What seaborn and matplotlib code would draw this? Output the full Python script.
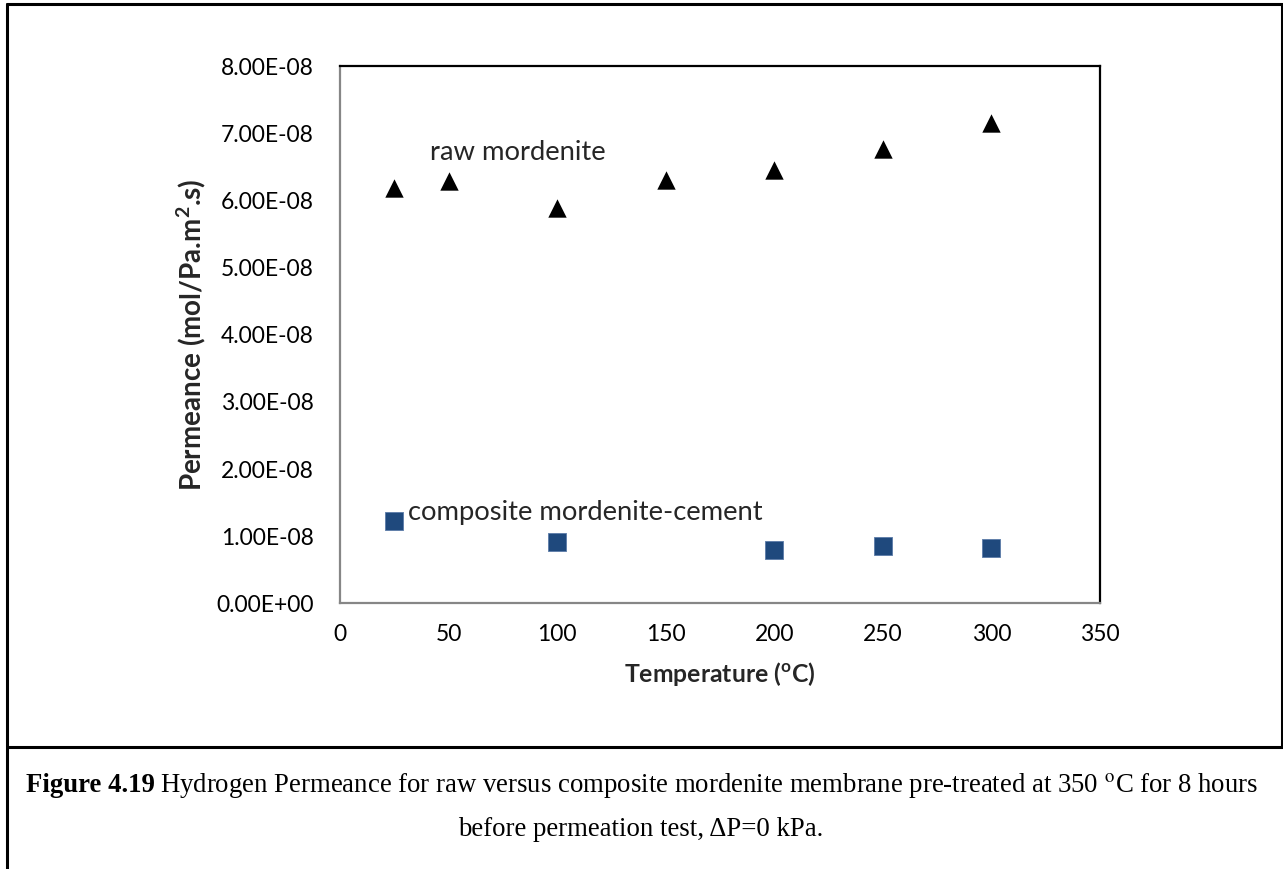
import matplotlib
matplotlib.use("Agg")
import matplotlib.pyplot as plt
from matplotlib.lines import Line2D
from matplotlib.ticker import FuncFormatter
import seaborn as sns
import pandas as pd

# ---- data ----
raw_temp = [25, 50, 100, 150, 200, 250, 300]
raw_perm = [6.19e-8, 6.29e-8, 5.89e-8, 6.31e-8, 6.45e-8, 6.77e-8, 7.16e-8]
comp_temp = [25, 100, 200, 250, 300]
comp_perm = [1.23e-8, 0.91e-8, 0.80e-8, 0.86e-8, 0.83e-8]
x_ticks = [0, 50, 100, 150, 200, 250, 300, 350]
y_ticks = [0, 1e-8, 2e-8, 3e-8, 4e-8, 5e-8, 6e-8, 7e-8, 8e-8]

sns.set_theme(style="white")
plt.rcParams["font.family"] = ["Lato", "DejaVu Sans"]
plt.rcParams["mathtext.fontset"] = "custom"
plt.rcParams["mathtext.rm"] = "Lato"
plt.rcParams["mathtext.bf"] = "Lato:bold"
plt.rcParams["mathtext.it"] = "Lato:italic"

W, H = 1283, 869
fig = plt.figure(figsize=(W / 100, H / 100), dpi=100)
fig.patch.set_facecolor("white")
ax = fig.add_axes([340 / W, 1 - 603.3 / H, (1100 - 340) / W, (603.3 - 66.3) / H])

df_raw = pd.DataFrame({"T": raw_temp, "P": raw_perm})
df_comp = pd.DataFrame({"T": comp_temp, "P": comp_perm})
sns.scatterplot(data=df_raw, x="T", y="P", marker="^", color="black", s=175,
                linewidth=0, ax=ax, zorder=3)
sns.scatterplot(data=df_comp, x="T", y="P", marker="s", color="#1F497D", s=150,
                linewidth=0.6, edgecolor="#5B7BA8", ax=ax, zorder=3)

ax.set_xlim(0, 350)
ax.set_ylim(0, 8e-8)
ax.set_xticks(x_ticks)
ax.set_yticks(y_ticks)
ax.yaxis.set_major_formatter(FuncFormatter(lambda v, p: f"{v:.2E}"))
ax.tick_params(axis="both", length=0, labelsize=16.5, colors="black")
ax.tick_params(axis="y", pad=19)
ax.tick_params(axis="x", pad=15)

for side in ["left", "bottom"]:
    ax.spines[side].set_color("#868686")
    ax.spines[side].set_linewidth(1.6)
for side in ["top", "right"]:
    ax.spines[side].set_color("black")
    ax.spines[side].set_linewidth(1.6)

ax.set_xlabel(r"Temperature ($^{\mathbf{o}}$C)", fontsize=17.8, fontweight="bold", labelpad=11)
ax.set_ylabel(r"Permeance (mol/Pa.m$^{\mathbf{2}}$.s)", fontsize=20, fontweight="bold", labelpad=6)

ax.text(41.4, 6.71e-8, "raw mordenite", fontsize=19.7, va="center", ha="left")
ax.text(31.3, 1.36e-8, "composite mordenite-cement", fontsize=19.7, va="center", ha="left")

# ---- outer frame and caption separator ----
def px_line(x0, y0, x1, y1, lw=2.2):
    fig.add_artist(Line2D([x0 / W, x1 / W], [1 - y0 / H, 1 - y1 / H],
                          transform=fig.transFigure, color="black", linewidth=lw))

px_line(7, 4, 1282, 4)
px_line(7, 4, 7, H)
px_line(1281.5, 4, 1281.5, 747)
px_line(7, 747, W, 747)

# ---- caption ----
cap_font = ["Liberation Serif", "DejaVu Serif"]
cap_size = 19.3
renderer = fig.canvas.get_renderer()
t1 = fig.text(26 / W, 1 - 786 / H, "Figure 4.19", fontsize=cap_size, fontweight="bold",
              family=cap_font, va="center", ha="left", color="black")
bb = t1.get_window_extent(renderer=renderer)
fig.text(bb.x1 / W + 5 / W, 1 - 786 / H,
         "Hydrogen Permeance for raw versus composite mordenite membrane pre-treated at 350 $^{\\mathrm{o}}$C for 8 hours",
         fontsize=cap_size, family=cap_font, math_fontfamily="stix", va="center", ha="left",
         color="black")
fig.text(641 / W, 1 - 829 / H, "before permeation test, \u0394P=0 kPa.",
         fontsize=cap_size, family=cap_font, va="center", ha="center", color="black")

fig.savefig("out.png", dpi=100, facecolor="white")
